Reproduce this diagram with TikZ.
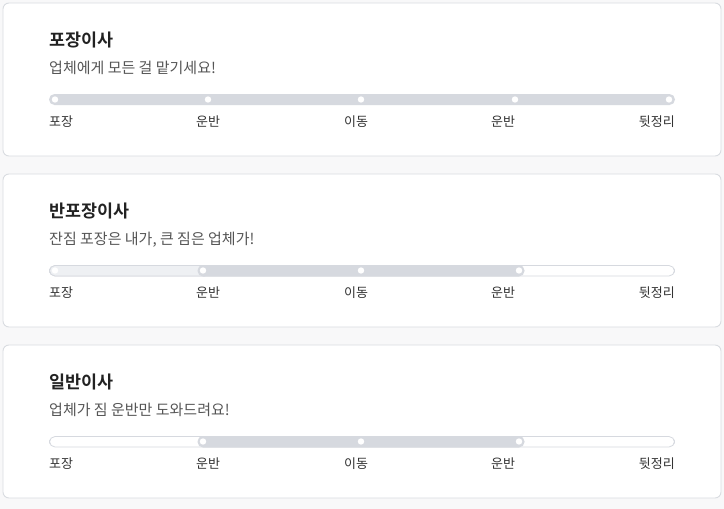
\documentclass[tikz,border=0pt]{standalone}
\usepackage{fontspec}
\setmainfont{Noto Sans CJK KR}[BoldFont={Noto Sans CJK KR Bold}]
\usepackage{tikz}
\usepackage{color}
\definecolor{pagebg}{HTML}{F8F8F9}
\definecolor{cardline}{HTML}{D9DCE1}
\definecolor{titlegray}{HTML}{222222}
\definecolor{subgray}{HTML}{555555}
\definecolor{labelgray}{HTML}{333333}
\definecolor{bardark}{HTML}{D6D9DF}
\definecolor{barlight}{HTML}{EEF0F3}

\tikzset{
  card/.style={draw=cardline,fill=white,rounded corners=6pt,line width=0.9pt},
  movetitle/.style={anchor=base west,inner sep=0pt,text=titlegray,font=\bfseries\fontsize{17.4}{17.4}\selectfont},
  movesub/.style={anchor=base west,inner sep=0pt,text=subgray,font=\fontsize{15}{15}\selectfont},
  steplabel/.style={anchor=base,inner sep=0pt,text=labelgray,font=\fontsize{13}{13}\selectfont},
  barframe/.style={draw=bardark,line width=0.8pt,rounded corners=5.5pt},
  barrange/.style={fill=bardark,rounded corners=5.5pt}
}

\begin{document}
\begin{tikzpicture}[x=1pt,y=-1pt]
  \fill[pagebg] (0,0) rectangle (724,509);
  \useasboundingbox (0,0) rectangle (724,509);

  % 포장이사
  \draw[card] (3,3) rectangle (721,156);
  \node[movetitle] (title1) at (49,46) {포장이사};
  \node[movesub] (sub1) at (49,73) {업체에게 모든 걸 맡기세요!};
  \fill[barrange] (49,94) rectangle (675,105);
  \foreach \x in {55,208,361,515,669}
    \fill[white] (\x,99.5) circle (3.2);
  \node[steplabel,anchor=base west] (pack1) at (49,126) {포장};
  \node[steplabel] (carry1) at (208,126) {운반};
  \node[steplabel] (move1) at (356,126) {이동};
  \node[steplabel] (unload1) at (503,126) {운반};
  \node[steplabel,anchor=base east] (clean1) at (675,126) {뒷정리};

  % 반포장이사
  \begin{scope}[yshift=-171pt]
  \draw[card] (3,3) rectangle (721,156);
  \node[movetitle] (title2) at (49,46) {반포장이사};
  \node[movesub] (sub2) at (49,73) {잔짐 포장은 내가, 큰 짐은 업체가!};
  \draw[barframe,fill=white] (49.5,94.5) rectangle (674.5,105);
  \draw[barframe,fill=barlight] (49.5,94.5) rectangle (210,105);
  \fill[barrange] (197.5,94) rectangle (524.5,105.5);
  \foreach \x in {55,203,361,519}
    \fill[white] (\x,99.5) circle (3.2);
  \node[steplabel,anchor=base west] (pack2) at (49,126) {포장};
  \node[steplabel] (carry2) at (208,126) {운반};
  \node[steplabel] (move2) at (356,126) {이동};
  \node[steplabel] (unload2) at (503,126) {운반};
  \node[steplabel,anchor=base east] (clean2) at (675,126) {뒷정리};
  \end{scope}

  % 일반이사
  \begin{scope}[yshift=-342pt]
  \draw[card] (3,3) rectangle (721,156);
  \node[movetitle] (title3) at (49,46) {일반이사};
  \node[movesub] (sub3) at (49,73) {업체가 짐 운반만 도와드려요!};
  \draw[barframe,fill=white] (49.5,94.5) rectangle (674.5,105);
  \fill[barrange] (197.5,94) rectangle (524.5,105.5);
  \foreach \x in {203,361,519}
    \fill[white] (\x,99.5) circle (3.2);
  \node[steplabel,anchor=base west] (pack3) at (49,126) {포장};
  \node[steplabel] (carry3) at (208,126) {운반};
  \node[steplabel] (move3) at (356,126) {이동};
  \node[steplabel] (unload3) at (503,126) {운반};
  \node[steplabel,anchor=base east] (clean3) at (675,126) {뒷정리};
  \end{scope}
\end{tikzpicture}
\end{document}
